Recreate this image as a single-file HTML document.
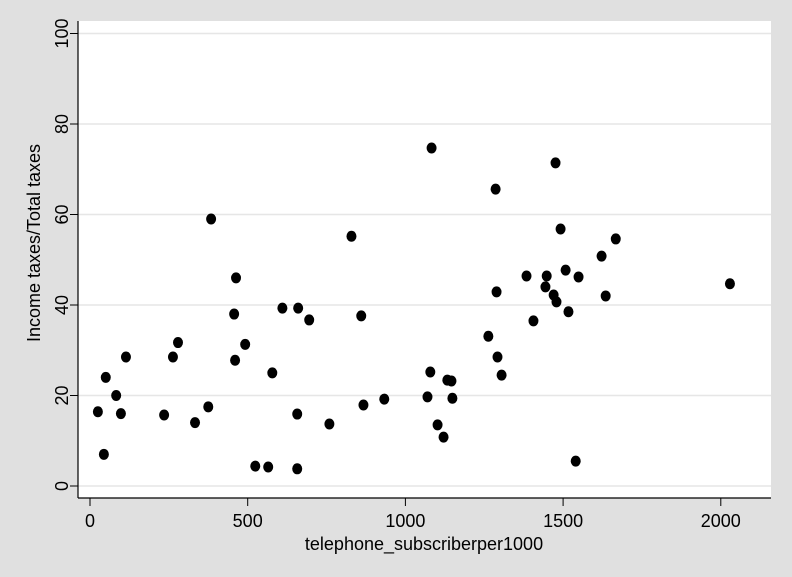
<!DOCTYPE html>
<html><head><meta charset="utf-8"><style>
body{margin:0;background:#e0e0e0;}
svg{display:block;font-family:"Liberation Sans",sans-serif;}
</style></head><body>
<svg id="chart" width="792" height="577">
<rect x="0" y="0" width="792" height="577" fill="#e0e0e0"/>
<rect x="78" y="21" width="693" height="477" fill="#ffffff"/>
<g id="grid"></g>
<g id="axes"></g>
<g id="points"></g>
<text x="424" y="550" font-size="18" text-anchor="middle" fill="#000">telephone_subscriberper1000</text>
<text transform="translate(40,243) rotate(-90)" font-size="18" text-anchor="middle" fill="#000">Income taxes/Total taxes</text>
</svg>
<script>
const xVals=[25,44,50,83,98,114,235,263,279,333,375,384,463,457,460,492,524,565,578,610,657,657,660,695,759,829,860,867,933,1070,1079,1083,1102,1121,1133,1146,1149,1263,1286,1289,1292,1305,1384,1406,1444,1448,1476,1470,1479,1492,1508,1517,1540,1549,1622,1635,1667,2029];
const yVals=[16.4,7,24,20,16,28.5,15.7,28.5,31.7,14,17.5,59,46,38,27.8,31.3,4.4,4.2,25,39.3,15.9,3.8,39.3,36.7,13.7,55.2,37.6,17.9,19.2,19.7,25.2,74.7,13.5,10.8,23.4,23.2,19.4,33.1,65.6,42.9,28.5,24.5,46.4,36.5,44,46.4,71.4,42.2,40.7,56.8,47.7,38.5,5.5,46.2,50.8,42,54.6,44.7];
const xTicks=[0,500,1000,1500,2000];
const yTicks=[0,20,40,60,80,100];
</script>
<script>
const NS="http://www.w3.org/2000/svg";
const xs=v=>90+v*0.3154;
const ys=v=>486-v*4.525;
const grid=document.getElementById('grid'),axes=document.getElementById('axes'),pts=document.getElementById('points');
function mk(tag,attrs,parent){const e=document.createElementNS(NS,tag);for(const k in attrs)e.setAttribute(k,attrs[k]);parent.appendChild(e);return e;}
yTicks.forEach(t=>{
  const g=mk('line',{x1:78,x2:771,y1:ys(t),y2:ys(t),stroke:'#e6e6e6','stroke-width':1.5},grid);
  
  
  const tk=mk('line',{x1:70,x2:78,y1:ys(t),y2:ys(t),stroke:'#000','stroke-width':1},axes);
  
  
  const lb=mk('text',{transform:`translate(68,${ys(t)}) rotate(-90)`,'font-size':18,'text-anchor':'middle',fill:'#000'},axes);
  lb.textContent=t;
  
  
});
xTicks.forEach(t=>{
  const tk=mk('line',{x1:xs(t),x2:xs(t),y1:498,y2:506,stroke:'#000','stroke-width':1},axes);
  
  
  const lb=mk('text',{x:xs(t),y:527,'font-size':18,'text-anchor':'middle',fill:'#000'},axes);
  lb.textContent=t;
  
  
});
const ya=mk('line',{x1:78,x2:78,y1:21,y2:498,stroke:'#000','stroke-width':1.2},axes);


const xa=mk('line',{x1:78,x2:771,y1:498,y2:498,stroke:'#000','stroke-width':1.2},axes);


xVals.forEach((x,i)=>{
  const c=mk('ellipse',{cx:xs(x),cy:ys(yVals[i]),rx:5,ry:5.5,fill:'#000'},pts);
  
  
});
</script>
</body></html>
